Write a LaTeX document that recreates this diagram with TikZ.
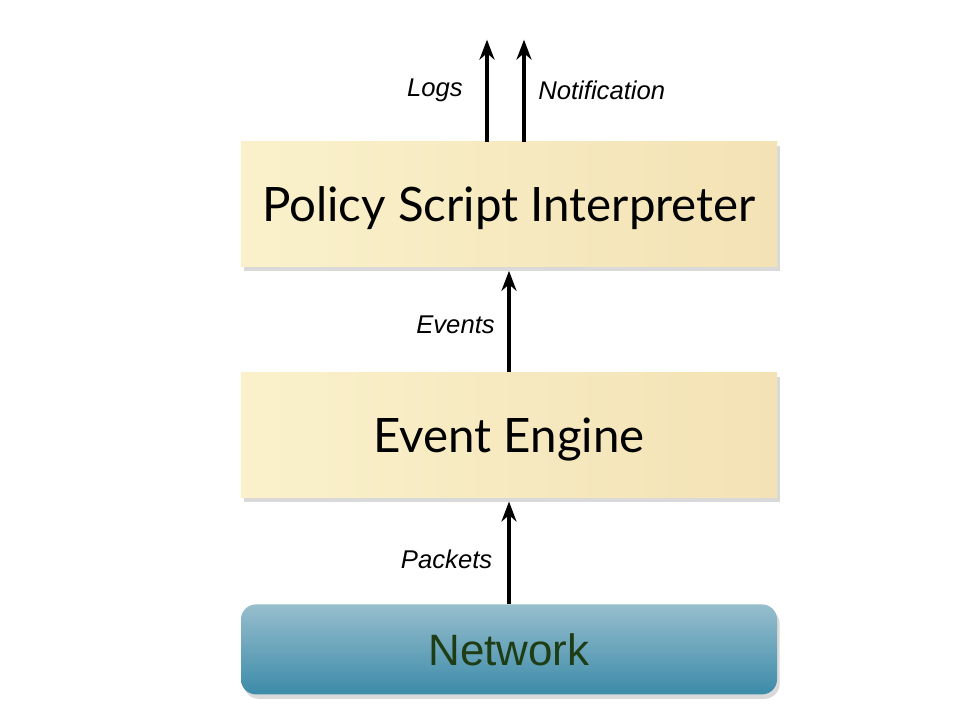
\documentclass[tikz,border=0pt]{standalone}
\usepackage{fontspec}
\setmainfont{Liberation Sans}
\newfontfamily\layerfont{Lato}
\usepackage{tikz}
\usetikzlibrary{arrows.meta}
\usetikzlibrary{positioning,shadows}
\usepackage{xcolor}
\definecolor{layerlight}{HTML}{FAF1CB}
\definecolor{layerdark}{HTML}{F3E2B5}
\definecolor{nettop}{HTML}{97BECD}
\definecolor{netbottom}{HTML}{3C8BA9}
\definecolor{nettext}{HTML}{1E3D14}
\tikzset{
    layer/.style={
        rectangle,
        left color=layerlight,
        right color=layerdark,
        minimum width=10.72cm,
        minimum height=2.5cm,
        inner sep=0pt,
        text depth=0pt,
        drop shadow={opacity=0.3, shadow xshift=1.5pt, shadow yshift=-2.5pt},
        font=\layerfont\fontsize{27}{32}\selectfont
    },
    network/.style={
        rectangle,
        rounded corners=0.3cm,
        top color=nettop,
        bottom color=netbottom,
        minimum width=10.72cm,
        minimum height=1.8cm,
        inner sep=0pt,
        drop shadow={opacity=0.3, shadow xshift=1.5pt, shadow yshift=-2.5pt},
        text=nettext,
        font=\fontsize{25}{30}\selectfont
    },
    flowlabel/.style={
        inner sep=0pt,
        font=\itshape\fontsize{14.6}{17}\selectfont
    }
}

\begin{document}
\begin{tikzpicture}[
    > = {Stealth[length=4mm, width=3mm]},
    flow/.style = {->, line width=2pt}
]
\useasboundingbox (0,0) rectangle (19.5,14.44);
% Define the layers, top to bottom
\node[layer] (psi) at (10.18,10.35) {Policy Script Interpreter};
\node[layer, below=2.1cm of psi] (engine) {Event Engine};
\node[network, below=2.12cm of engine] (net) {Network};

% Outputs of the interpreter
\coordinate[above=2.04cm of psi.north, xshift=-0.44cm] (logs);
\coordinate[above=2.04cm of psi.north, xshift=0.3cm] (notify);
\draw[flow] (logs |- psi.north) -- node[flowlabel, left=0.45cm] {Logs} (logs);
\draw[flow] (notify |- psi.north) -- node[flowlabel, right=0.25cm] {Notification} (notify);

% Flow between the layers
\draw[flow, shorten > = 2pt] (engine.north) -- node[flowlabel, pos=0.45, left=0.25cm] {Events} (psi.south);
\draw[flow, shorten > = 2pt] (net.north) -- node[flowlabel, pos=0.42, left=0.3cm] {Packets} (engine.south);
\end{tikzpicture}
\end{document}
